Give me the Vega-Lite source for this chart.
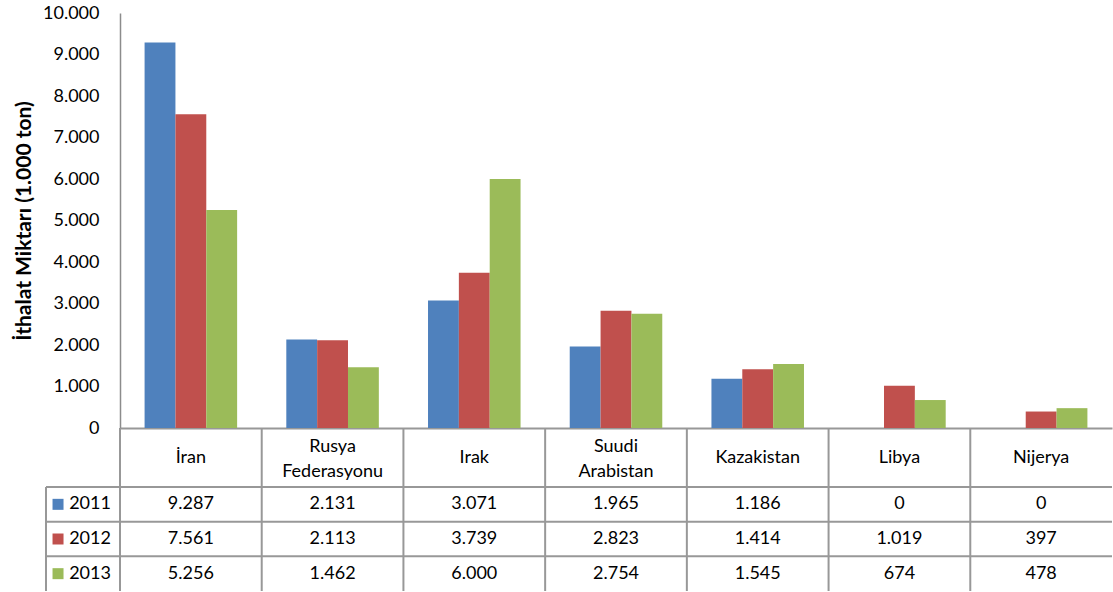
{
  "$schema": "https://vega.github.io/schema/vega-lite/v6.json",
  "padding": {"left": 13, "top": 4, "right": 0, "bottom": 0},
  "background": "white",
  "config": {
    "view": {"stroke": null},
    "font": "Lato",
    "locale": {"number": {"decimal": ",", "thousands": ".", "grouping": [3], "currency": ["", ""]}}
  },
  "datasets": {
    "d": [
      {"country": "İran", "year": "2011", "value": 9287},
      {"country": "İran", "year": "2012", "value": 7561},
      {"country": "İran", "year": "2013", "value": 5256},
      {"country": "Rusya Federasyonu", "year": "2011", "value": 2131},
      {"country": "Rusya Federasyonu", "year": "2012", "value": 2113},
      {"country": "Rusya Federasyonu", "year": "2013", "value": 1462},
      {"country": "Irak", "year": "2011", "value": 3071},
      {"country": "Irak", "year": "2012", "value": 3739},
      {"country": "Irak", "year": "2013", "value": 6000},
      {"country": "Suudi Arabistan", "year": "2011", "value": 1965},
      {"country": "Suudi Arabistan", "year": "2012", "value": 2823},
      {"country": "Suudi Arabistan", "year": "2013", "value": 2754},
      {"country": "Kazakistan", "year": "2011", "value": 1186},
      {"country": "Kazakistan", "year": "2012", "value": 1414},
      {"country": "Kazakistan", "year": "2013", "value": 1545},
      {"country": "Libya", "year": "2011", "value": 0},
      {"country": "Libya", "year": "2012", "value": 1019},
      {"country": "Libya", "year": "2013", "value": 674},
      {"country": "Nijerya", "year": "2011", "value": 0},
      {"country": "Nijerya", "year": "2012", "value": 397},
      {"country": "Nijerya", "year": "2013", "value": 478}
    ]
  },
  "columns": 2,
  "spacing": 0,
  "bounds": "flush",
  "align": "each",
  "resolve": {"scale": {"x": "independent", "y": "independent"}},
  "concat": [
    {"width": 74, "height": 415, "data": {"values": []}, "mark": "point", "encoding": {}},
    {
      "width": 992, "height": 415,
      "data": {"name": "d"},
      "mark": {"type": "bar"},
      "encoding": {
        "x": {"field": "country", "type": "nominal",
          "scale": {"domain": ["İran", "Rusya Federasyonu", "Irak", "Suudi Arabistan", "Kazakistan", "Libya", "Nijerya"], "paddingInner": 0.347, "paddingOuter": 0.1735},
          "axis": {"title": null, "labels": false, "ticks": false, "domainColor": "#989898", "domainWidth": 2}},
        "xOffset": {"field": "year", "type": "nominal", "scale": {"paddingInner": 0, "paddingOuter": 0}},
        "y": {"field": "value", "type": "quantitative", "scale": {"domain": [0, 10000]},
          "axis": {"title": "İthalat Miktarı (1.000 ton)", "format": ",d", "tickCount": 10, "grid": false, "ticks": false, "tickSize": 0,
            "labelPadding": 21, "labelFontSize": 18, "labelColor": "#000", "labelFont": "Lato",
            "domainColor": "#8c8c8c", "domainWidth": 1.5,
            "titleFont": "Lato", "titleFontSize": 21, "titleFontWeight": "bold", "titleColor": "#000", "titlePadding": 8}},
        "color": {"field": "year", "type": "nominal",
          "scale": {"domain": ["2011", "2012", "2013"], "range": ["#4F81BD", "#C0504D", "#9BBB59"]}, "legend": null}
      }
    },
    {"width": 74, "height": 59, "data": {"values": []}, "mark": "point", "encoding": {}},
    {
      "width": 992, "height": 59,
      "data": {"name": "d"},
      "transform": [{"filter": "datum.year == '2011'"}],
      "layer": [
        {"mark": {"type": "rule", "color": "#989898", "strokeWidth": 2},
         "encoding": {"x": {"field": "country", "type": "nominal", "bandPosition": 0,
           "scale": {"domain": ["İran", "Rusya Federasyonu", "Irak", "Suudi Arabistan", "Kazakistan", "Libya", "Nijerya"], "paddingInner": 0, "paddingOuter": 0}, "axis": null}}},
        {"transform": [{"filter": "indexof(datum.country, ' ') < 0"}],
         "mark": {"type": "text", "fontSize": 18, "color": "#000", "baseline": "middle"},
         "encoding": {"x": {"field": "country", "type": "nominal", "axis": null}, "text": {"field": "country"}}},
        {"transform": [{"filter": "indexof(datum.country, ' ') >= 0"}],
         "mark": {"type": "text", "fontSize": 18, "lineBreak": " ", "lineHeight": 25, "color": "#000", "baseline": "middle", "dy": -11},
         "encoding": {"x": {"field": "country", "type": "nominal", "axis": null}, "text": {"field": "country"}}}
      ]
    },
    {
      "width": 74, "height": 104,
      "data": {"name": "d"},
      "transform": [{"filter": "datum.country == 'İran'"}],
      "layer": [
        {"mark": {"type": "rule", "color": "#989898", "strokeWidth": 2},
         "encoding": {"y": {"field": "year", "type": "nominal", "bandPosition": 0,
           "scale": {"domain": ["2011", "2012", "2013"], "paddingInner": 0, "paddingOuter": 0}, "axis": null}}},
        {"mark": {"type": "rule", "color": "#989898", "strokeWidth": 2},
         "encoding": {"x": {"datum": 0, "type": "quantitative", "scale": {"domain": [0, 74]}, "axis": null}}},
        {"mark": {"type": "point", "shape": "square", "filled": true, "size": 121, "opacity": 1},
         "encoding": {"x": {"datum": 13, "type": "quantitative"}, "y": {"field": "year", "type": "nominal"},
           "color": {"field": "year", "type": "nominal", "legend": null}}},
        {"mark": {"type": "text", "fontSize": 18, "align": "left", "baseline": "middle", "color": "#000"},
         "encoding": {"x": {"datum": 25, "type": "quantitative"}, "y": {"field": "year", "type": "nominal"}, "text": {"field": "year"}}}
      ]
    },
    {
      "width": 992, "height": 104,
      "data": {"name": "d"},
      "layer": [
        {"transform": [{"filter": "datum.year == '2011'"}],
         "mark": {"type": "rule", "color": "#989898", "strokeWidth": 2},
         "encoding": {"x": {"field": "country", "type": "nominal", "bandPosition": 0,
           "scale": {"domain": ["İran", "Rusya Federasyonu", "Irak", "Suudi Arabistan", "Kazakistan", "Libya", "Nijerya"], "paddingInner": 0, "paddingOuter": 0}, "axis": null}}},
        {"transform": [{"filter": "datum.country == 'İran'"}],
         "mark": {"type": "rule", "color": "#989898", "strokeWidth": 2},
         "encoding": {"y": {"field": "year", "type": "nominal", "bandPosition": 0,
           "scale": {"domain": ["2011", "2012", "2013"], "paddingInner": 0, "paddingOuter": 0}, "axis": null}}},
        {"mark": {"type": "text", "fontSize": 18, "color": "#000", "baseline": "middle"},
         "encoding": {"x": {"field": "country", "type": "nominal", "axis": null},
           "y": {"field": "year", "type": "nominal", "axis": null},
           "text": {"field": "value", "type": "quantitative", "format": ",d"}}}
      ]
    }
  ]
}
